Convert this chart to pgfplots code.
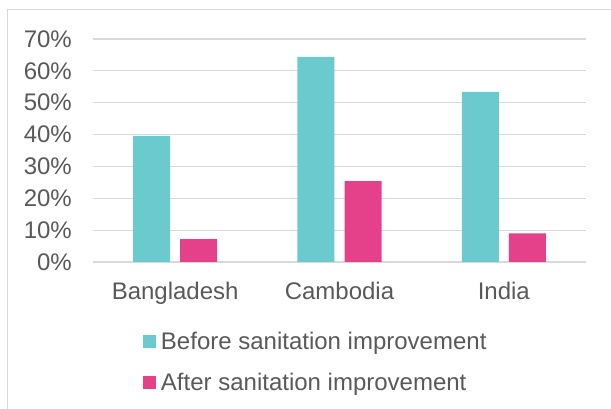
\documentclass[border=0pt]{standalone}
\usepackage{pgfplots}
\pgfplotsset{compat=1.18}
\usepackage{fontspec}
\setmainfont{Liberation Sans}
\definecolor{teal1}{HTML}{6BCACE}
\definecolor{pink1}{HTML}{E5408A}
\definecolor{grid1}{HTML}{D9D9D9}
\definecolor{txt}{HTML}{595959}
\begin{document}
\begin{tikzpicture}[x=1pt,y=1pt]
\useasboundingbox (0,0) rectangle (611,409);
\draw[grid1, line width=1.2pt] (7.5,-5) -- (7.5,399.5) -- (620,399.5);
\begin{axis}[
  at={(93pt,147pt)}, anchor=south west,
  scale only axis, width=493pt, height=223pt,
  ybar=10pt, bar width=37pt,
  xmin=-0.5, xmax=2.5, ymin=0, ymax=70,
  xtick={0,1,2}, xticklabels={Bangladesh,Cambodia,India},
  ytick={0,10,20,30,40,50,60,70},
  yticklabels={0\%,10\%,20\%,30\%,40\%,50\%,60\%,70\%},
  axis line style={draw=none},
  major tick length=0pt,
  ymajorgrids, grid style={grid1, line width=1.2pt},
  tick label style={font=\fontsize{24}{28}\selectfont, text=txt, inner sep=0pt},
  xticklabel style={yshift=-20pt},
  yticklabel style={xshift=-21pt},
  legend style={draw=none, fill=none, at={(0.101,-0.305)}, anchor=north west,
    font=\fontsize{24}{28}\selectfont, text=txt, inner sep=0pt,
    row sep=18pt, nodes={inner sep=2pt}},
  legend cell align=left,
  legend image code/.code={\fill[#1,draw=none] (0pt,-6.5pt) rectangle (13pt,6.5pt); \path (16pt,0pt);},
]
\addplot[fill=teal1, draw=none] coordinates {(0,39.6) (1,64.4) (2,53.4)};
\addplot[fill=pink1, draw=none] coordinates {(0,7.2) (1,25.4) (2,9.0)};
\legend{Before sanitation improvement, After sanitation improvement}
\end{axis}
\end{tikzpicture}
\end{document}
